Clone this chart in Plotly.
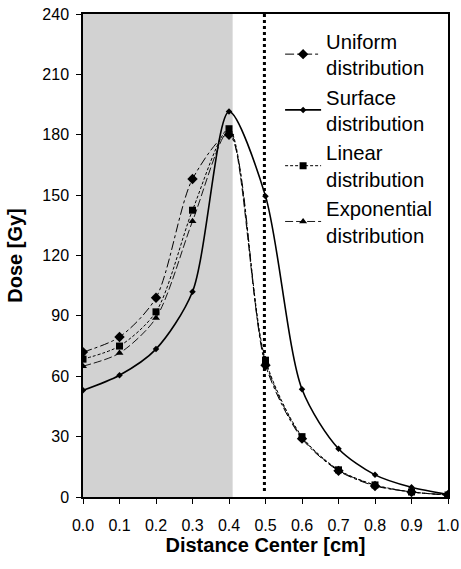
import plotly.graph_objects as go

x = [0.0, 0.1, 0.2, 0.3, 0.4, 0.5, 0.6, 0.7, 0.8, 0.9, 1.0]
uniform = [72, 79.5, 99, 158, 180, 65.5, 29, 13, 5.5, 2.5, 1]
surface = [53, 60.5, 73.5, 102, 191.5, 149.5, 53.5, 24, 11, 4.8, 1.2]
linear = [68.5, 75, 92, 142.5, 183, 68, 30, 13.5, 6, 2.5, 1]
exponential = [65, 71.5, 89, 137, 182, 67, 29.5, 13.3, 5.8, 2.5, 1]

names = ["Uniform<br>distribution", "Surface<br>distribution",
         "Linear<br>distribution", "Exponential<br>distribution"]
series = [uniform, surface, linear, exponential]
dashes = ["dashdot", "solid", "3px,2px", "8px,3px"]
widths = [1, 1.6, 1, 0.9]
symbols = ["diamond", "diamond", "square", "triangle-up"]
msizes = [8, 5, 7, 7]

fig = go.Figure()
for n, s, d, w, sym, ms in zip(names, series, dashes, widths, symbols, msizes):
    fig.add_trace(go.Scatter(
        x=x, y=s, name=n, mode="lines+markers",
        line=dict(color="black", width=w, dash=d, shape="spline", smoothing=0.8),
        marker=dict(symbol=sym, size=ms, color="black"),
    ))

fig.add_shape(type="rect", x0=0, x1=0.41, y0=0, y1=240, xref="x", yref="y",
              fillcolor="#d2d2d2", line=dict(width=0), layer="below")
fig.add_shape(type="line", x0=0.497, x1=0.497, y0=3, y1=240, xref="x", yref="y",
              line=dict(color="black", width=3, dash="dot"))

font = "Liberation Sans, Arial, sans-serif"
fig.update_layout(
    width=461, height=569,
    margin=dict(l=83, r=13, t=14, b=72),
    paper_bgcolor="white", plot_bgcolor="white",
    font=dict(family=font, color="black"),
    showlegend=True,
    legend=dict(x=0.54, y=0.985, xanchor="left", yanchor="top",
                bgcolor="rgba(0,0,0,0)", font=dict(size=20.3, color="black"),
                tracegroupgap=0, itemwidth=36),
    xaxis=dict(range=[0, 1.0], dtick=0.1, tick0=0, tickformat=".1f",
               showgrid=False, zeroline=False, showline=True, linecolor="black",
               linewidth=1.5, mirror=True, ticks="outside", ticklen=5,
               tickcolor="black", tickfont=dict(size=16), automargin=False,
               ticklabelstandoff=8,
               title=dict(text="<b>Distance Center [cm]</b>", font=dict(size=20), standoff=3)),
    yaxis=dict(range=[0, 240], dtick=30, tick0=0,
               showgrid=False, zeroline=False, showline=True, linecolor="black",
               linewidth=1.5, mirror=True, ticks="outside", ticklen=5,
               tickcolor="black", tickfont=dict(size=16), automargin=False,
               ticklabelstandoff=4,
               title=dict(text="<b>Dose [Gy]</b>", font=dict(size=20), standoff=14)),
)

fig.write_html("out.html", config={"displayModeBar": False},
               post_script="document.body.style.margin='0';")
